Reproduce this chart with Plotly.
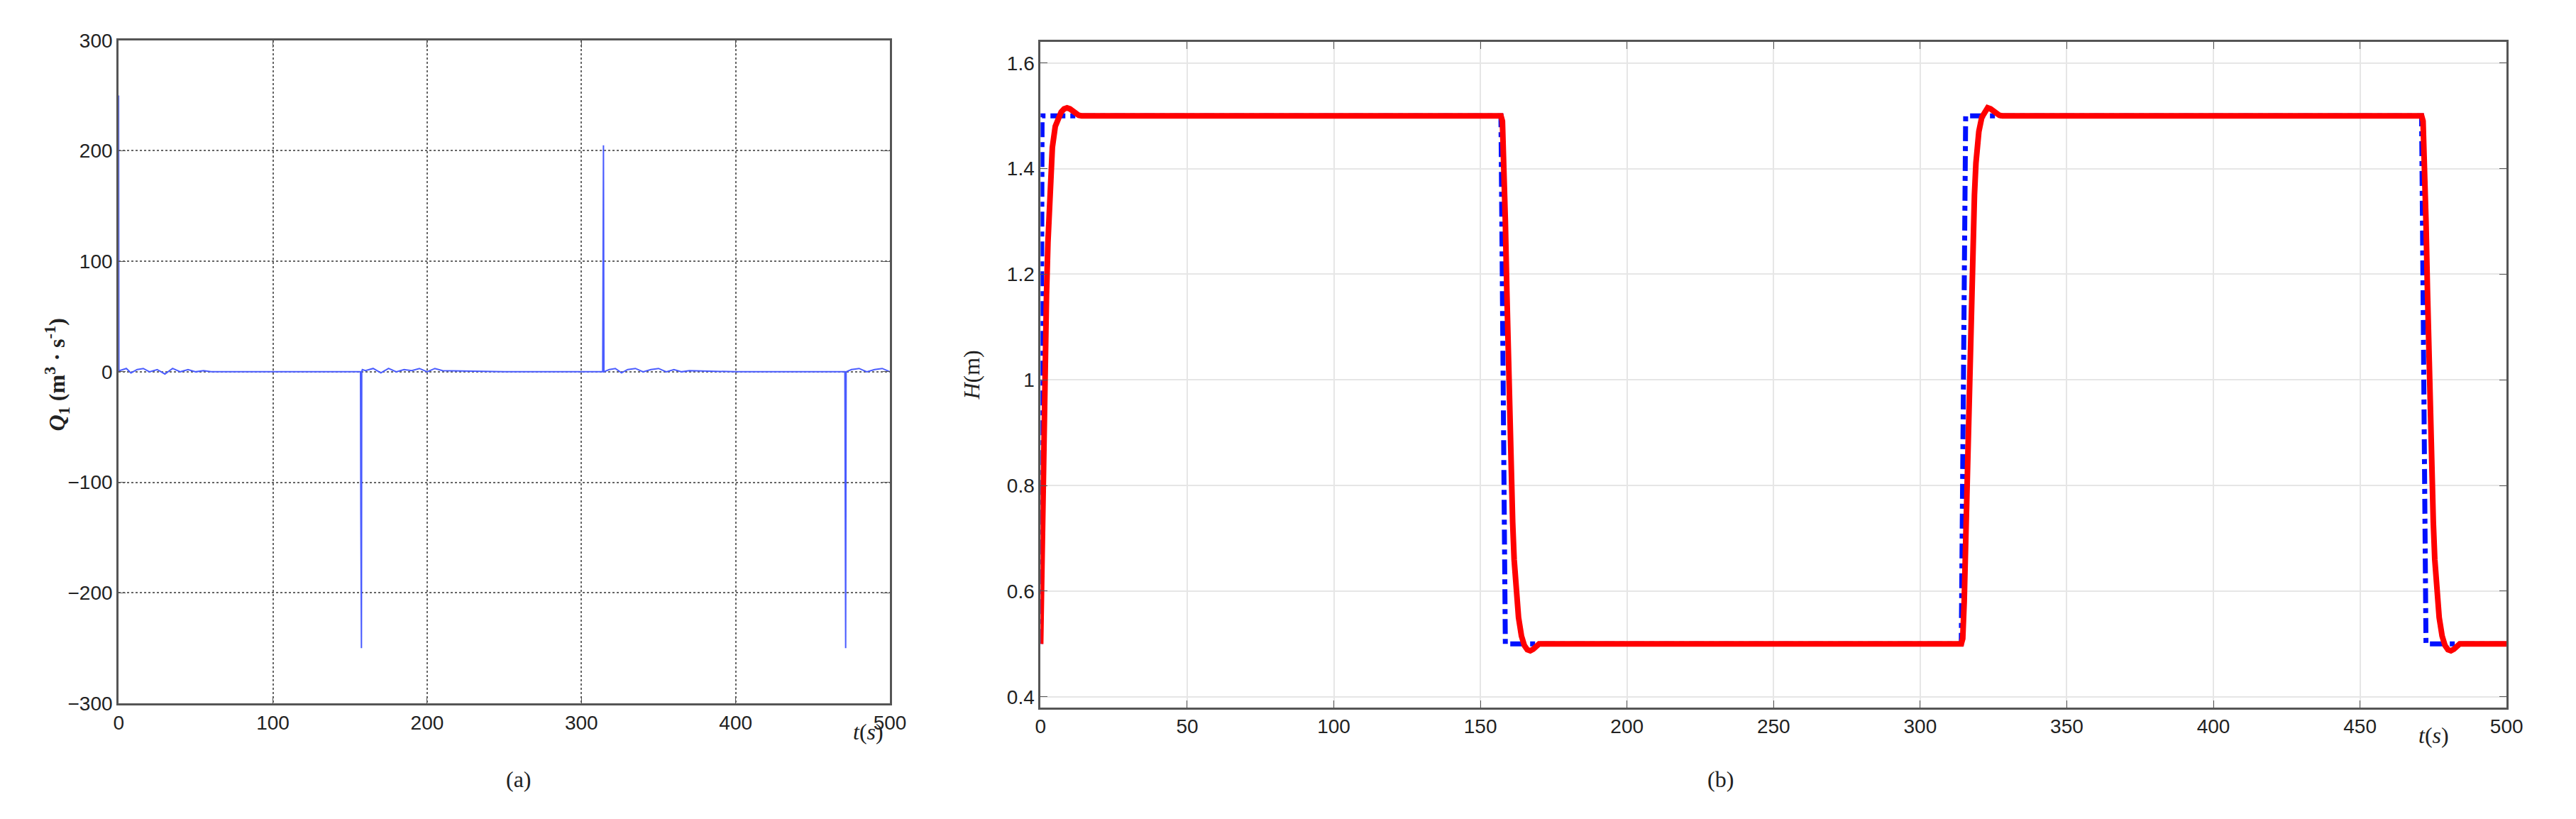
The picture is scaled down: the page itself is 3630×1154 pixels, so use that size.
import plotly.graph_objects as go

# (a) Q1 control flow: spikes at the set-point switches plus small ripple
t_q = [0, 0.2, 0.5, 5, 8, 12, 16, 20, 25, 30, 35, 40, 45, 50, 55, 60, 100, 156.8, 157, 157.2, 157.4,
       157.6, 158, 160, 165, 170, 175, 180, 185, 190, 195, 200, 205, 210, 250, 313.8, 314, 314.3, 314.6,
       318, 322, 326, 330, 335, 340, 345, 350, 355, 360, 365, 370, 400, 470.8, 471, 471.3, 471.6,
       475, 480, 485, 490, 495, 500]
q_val = [250, 0, 1, 3, -1, 2, 3, 0, 2, -2, 3, 0, 2, 0, 1, 0, 0, 0, -125, -250, -250,
         0, 2, 1, 3, -1, 3, 0, 2, 1, 3, 0, 3, 1, 0, 0, 205, 205, 0,
         2, 3, -1, 2, 3, 0, 2, 3, 0, 2, 0, 1, 0, 0, -250, -250, 0,
         2, 3, 0, 2, 3, 0]

# (b) water level: reference (blue) and response (red)
t_ref = [0, 0.5, 157, 158.5, 314, 315.5, 471, 472.5, 500]
h_ref = [0.5, 1.5, 1.5, 0.5, 0.5, 1.5, 1.5, 0.5, 0.5]

t_h = [0, 0.5, 1, 1.5, 2, 2.5, 3, 3.5, 4, 5, 6, 7, 8, 9, 10, 11, 12, 13, 14, 157, 157.5, 158, 158.5, 159,
       159.5, 160, 160.5, 161, 161.5, 162, 163, 164, 165, 166, 167, 168, 169, 170,
       314, 314.5, 315, 315.5, 316, 316.5, 317, 317.5, 318, 318.5, 319, 320, 321, 322, 323,
       324, 325, 326, 327, 328, 471, 471.5, 472, 472.5, 473, 473.5, 474, 474.5, 475, 475.5,
       476, 477, 478, 479, 480, 481, 482, 483, 484, 500]
h_val = [0.5, 0.7, 0.88, 1.03, 1.16, 1.26, 1.34, 1.4, 1.44, 1.48, 1.497, 1.507, 1.513, 1.515, 1.513,
         1.508, 1.504, 1.501, 1.5,
         1.5, 1.49, 1.42, 1.3, 1.17, 1.04, 0.92, 0.82, 0.73, 0.66, 0.61, 0.55, 0.515, 0.497, 0.489,
         0.487, 0.49, 0.496, 0.5,
         0.5, 0.51, 0.58, 0.7, 0.84, 0.97, 1.09, 1.19, 1.28, 1.35, 1.41, 1.47, 1.497, 1.509, 1.515,
         1.513, 1.508, 1.504, 1.501, 1.5,
         1.5, 1.49, 1.42, 1.3, 1.17, 1.04, 0.92, 0.82, 0.73, 0.66,
         0.61, 0.55, 0.515, 0.497, 0.489, 0.487, 0.49, 0.496, 0.5, 0.5]

fig = go.Figure()
fig.add_trace(go.Scatter(x=t_q, y=q_val, mode='lines', line=dict(color='#4a5cff', width=2),
                         xaxis='x', yaxis='y', showlegend=False))
fig.add_trace(go.Scatter(x=t_ref, y=h_ref, mode='lines', line=dict(color='#0010ff', width=7, dash='dashdot'),
                         xaxis='x2', yaxis='y2', showlegend=False))
fig.add_trace(go.Scatter(x=t_h, y=h_val, mode='lines', line=dict(color='#ff0000', width=8),
                         xaxis='x2', yaxis='y2', showlegend=False))

tickfont = dict(family='Liberation Sans', size=28, color='#222')
common = dict(showline=True, mirror='ticks', linecolor='#555', linewidth=3, ticks='inside',
              ticklen=10, tickcolor='#555', tickfont=tickfont, zeroline=False)

fig.update_layout(
    width=3630, height=1154, paper_bgcolor='white', plot_bgcolor='white',
    margin=dict(l=0, r=0, t=0, b=0),
    xaxis=dict(domain=[0.042, 0.344], range=[0, 500], dtick=100, showgrid=True,
               gridcolor='#666', griddash='dot', gridwidth=2, anchor='y', **common),
    yaxis=dict(domain=[0.138, 0.970], range=[-300, 300], dtick=100, showgrid=True,
               gridcolor='#666', griddash='dot', gridwidth=2, anchor='x', **common),
    xaxis2=dict(domain=[0.403, 0.977], range=[0, 500], dtick=50, showgrid=True,
                gridcolor='#e6e6e6', gridwidth=2, anchor='y2', **common),
    yaxis2=dict(domain=[0.133, 0.968], range=[0.38, 1.64], dtick=0.2, showgrid=True,
                gridcolor='#e6e6e6', gridwidth=2, anchor='x2', tickformat='~g', **common),
)

ann = dict(xref='paper', yref='paper', showarrow=False,
           font=dict(family='Liberation Serif', size=32, color='#222'))
fig.add_annotation(x=0.193, y=0.025, text='(a)', **ann)
fig.add_annotation(x=0.675, y=0.025, text='(b)', **ann)
fig.add_annotation(x=0.329, y=0.085, text='<i>t</i>(<i>s</i>)', **ann)
fig.add_annotation(x=0.955, y=0.080, text='<i>t</i>(<i>s</i>)', **ann)
fig.add_annotation(x=0.011, y=0.55, textangle=-90,
                   text='<b><i>Q</i><sub>1</sub> (m<sup>3</sup> · s<sup>-1</sup>)</b>', **ann)
fig.add_annotation(x=0.376, y=0.55, textangle=-90, text='<i>H</i>(m)', **ann)

fig.write_html("out.html")
